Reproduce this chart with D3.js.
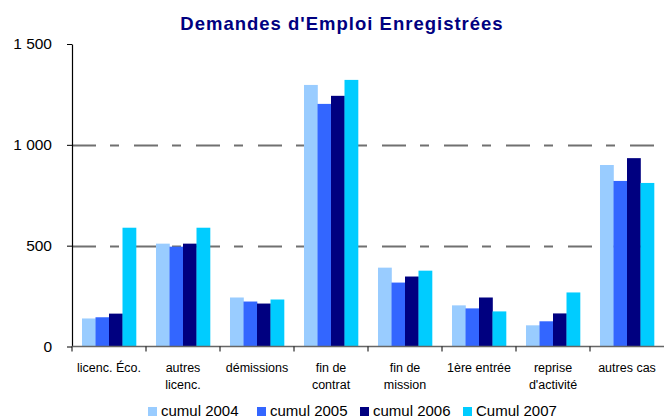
<!DOCTYPE html>
<html>
<head>
<meta charset="utf-8">
<script src="https://cdn.jsdelivr.net/npm/d3@7"></script>
<style>
  body { margin: 0; background: #fff; }
  svg { font-family: "Liberation Sans", Arial, sans-serif; }
</style>
</head>
<body>
<div id="chart"></div>
<script>
// Catégories et séries
const categories = [
    ["licenc. Éco."], ["autres", "licenc."], ["démissions"], ["fin de", "contrat"],
    ["fin de", "mission"], ["1ère entrée"], ["reprise", "d'activité"], ["autres cas"]
];
const seriesNames = ["cumul 2004", "cumul 2005", "cumul 2006", "Cumul 2007"];
const cumul2004 = [139, 510, 243, 1297, 391, 204, 105, 900];
const cumul2005 = [145, 495, 223, 1203, 317, 189, 125, 821];
const cumul2006 = [163, 510, 213, 1243, 347, 243, 164, 934];
const cumul2007 = [589, 589, 233, 1322, 376, 174, 268, 811];
const yTicks = [0, 500, 1000, 1500];
const colors = ["#99ccff", "#3366ff", "#000080", "#00ccff"];

const series = [cumul2004, cumul2005, cumul2006, cumul2007];

const width = 664, height = 419;
const margin = { top: 44, right: 0, bottom: 72, left: 72 };

const svg = d3.select("#chart")
    .append("svg")
    .attr("width", width)
    .attr("height", height);

// Titre
svg.append("text")
    .attr("x", 342)
    .attr("y", 30)
    .attr("text-anchor", "middle")
    .attr("font-size", 18.5)
    .attr("font-weight", "bold")
    .attr("letter-spacing", 1)
    .attr("fill", "#000080")
    .text("Demandes d'Emploi Enregistrées");

const x0 = d3.scaleBand()
    .domain(d3.range(categories.length))
    .range([margin.left, width - margin.right])
    .paddingInner(0.27)
    .paddingOuter(0.135);

const x1 = d3.scaleBand()
    .domain(d3.range(series.length))
    .range([0, x0.bandwidth()]);

const y = d3.scaleLinear()
    .domain([0, 1500])
    .range([height - margin.bottom - 0.5, margin.top]);

// Lignes de grille pointillées
svg.append("g")
    .selectAll("line")
    .data([500, 1000])
    .enter()
    .append("line")
    .attr("x1", margin.left)
    .attr("x2", width)
    .attr("y1", d => Math.round(y(d)) + 0.5)
    .attr("y2", d => Math.round(y(d)) + 0.5)
    .attr("stroke", "#707070")
    .attr("stroke-width", 1.8)
    .attr("stroke-dasharray", "24 14 9 15");

// Barres
const groups = svg.append("g")
    .selectAll("g")
    .data(categories)
    .enter()
    .append("g")
    .attr("transform", (d, i) => `translate(${x0(i)},0)`);

groups.selectAll("rect")
    .data((d, i) => series.map((s, j) => ({ j, v: s[i] })))
    .enter()
    .append("rect")
    .attr("x", d => x1(d.j))
    .attr("width", x1.bandwidth() + 0.3)
    .attr("y", d => y(d.v))
    .attr("height", d => y(0) - y(d.v))
    .attr("fill", d => colors[d.j]);

// Axe Y
const fmt = d => d3.format(",")(d).replace(",", " ");
const yAxis = svg.append("g")
    .attr("transform", `translate(${margin.left},0)`)
    .call(d3.axisLeft(y).tickValues(yTicks).tickFormat(fmt).tickSize(5).tickSizeOuter(0));
yAxis.select(".domain").attr("stroke", "#000").attr("stroke-width", 1.2);
yAxis.selectAll(".tick line").attr("stroke", "#000");
yAxis.selectAll(".tick text")
    .attr("font-size", 15.5)
    .attr("font-family", "Liberation Sans, Arial, sans-serif")
    .attr("fill", "#000")
    .attr("x", -20);

// Axe X
const xAxisY = y(0);
svg.append("line")
    .attr("x1", margin.left)
    .attr("x2", width)
    .attr("y1", xAxisY)
    .attr("y2", xAxisY)
    .attr("stroke", "#666")
    .attr("stroke-width", 1.5);

const step = x0.step();
const bandStart = d3.range(categories.length).map(i => x0(i) - step * x0.paddingInner() / 2);
svg.append("g")
    .selectAll("line")
    .data(bandStart)
    .enter()
    .append("line")
    .attr("x1", d => d)
    .attr("x2", d => d)
    .attr("y1", xAxisY)
    .attr("y2", xAxisY + 5)
    .attr("stroke", "#000");

// Libellés des catégories
const labels = svg.append("g")
    .selectAll("text")
    .data(categories)
    .enter()
    .append("text")
    .attr("text-anchor", "middle")
    .attr("font-size", 12.5)
    .attr("fill", "#000")
    .attr("transform", (d, i) => `translate(${x0(i) + x0.bandwidth() / 2},${xAxisY + 25})`);

labels.selectAll("tspan")
    .data(d => d)
    .enter()
    .append("tspan")
    .attr("x", 0)
    .attr("dy", (d, i) => i === 0 ? 0 : 17)
    .text(d => d);

// Légende
const legendX = [148, 257, 360, 463];
const legend = svg.append("g")
    .selectAll("g")
    .data(seriesNames)
    .enter()
    .append("g")
    .attr("transform", (d, i) => `translate(${legendX[i]},407)`);

legend.append("rect")
    .attr("width", 9)
    .attr("height", 9)
    .attr("fill", (d, i) => colors[i]);

legend.append("text")
    .attr("x", 13)
    .attr("y", 9)
    .attr("font-size", 15)
    .attr("fill", "#000")
    .text(d => d);
</script>
</body>
</html>
